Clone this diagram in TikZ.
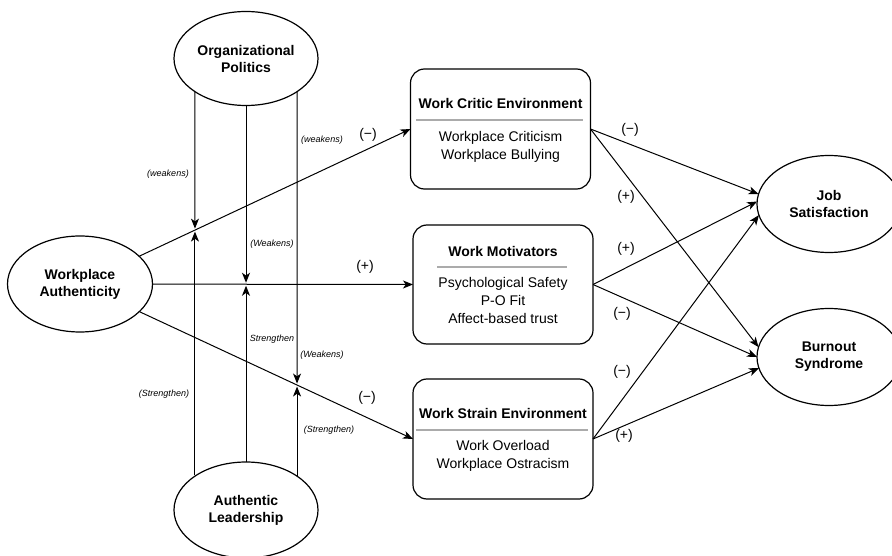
\documentclass[tikz,border=0pt]{standalone}
\usepackage{fontspec}
\setmainfont{Liberation Sans}
\usetikzlibrary{arrows.meta,shapes.geometric,calc}
\begin{document}
\begin{tikzpicture}[x=1pt,y=-1pt,
  every node/.style={inner sep=0pt,outer sep=0pt},
  oval/.style={draw,ellipse,line width=1.2pt,minimum width=144pt,minimum height=94pt,font=\fontsize{14}{17}\selectfont\bfseries,align=center},
  box/.style={draw,rounded corners=14pt,line width=1.2pt,minimum width=180pt,minimum height=120pt},
  boxtitle/.style={font=\fontsize{14}{17}\selectfont\bfseries},
  boxitems/.style={font=\fontsize{14}{18}\selectfont,align=center},
  sepline/.style={draw=black!33,line width=1.5pt},
  conn/.style={line width=1pt,-{Stealth[length=10pt,width=8pt,inset=2.8pt]}},
  sign/.style={font=\fontsize{14}{17}\selectfont},
  modlabel/.style={font=\fontsize{9}{11}\selectfont\itshape}]
\useasboundingbox (0,0) rectangle (892,556);

% ellipses
\node[oval] (op) at (246,58.5) {Organizational\\Politics};
\node[oval,minimum width=145pt,minimum height=96pt] (wa) at (80,284) {Workplace\\Authenticity};
\node[oval,minimum height=96pt] (al) at (246,510) {Authentic\\Leadership};
\node[oval,minimum height=97pt] (js) at (829,204) {Job\\Satisfaction};
\node[oval,minimum height=97pt] (bs) at (829,357) {Burnout\\Syndrome};

% boxes
\node[box] (wce) at (500.5,129) {};
\node[boxtitle] (wcet) at (500.5,103) {Work Critic Environment};
\draw[sepline] (416,120) -- (583,120);
\node[boxitems] (wcei) at (500.5,147) {Workplace Criticism\\Workplace Bullying};

\node[box,minimum height=119pt] (wm) at (503,284.5) {};
\node[boxtitle] (wmt) at (503,251) {Work Motivators};
\draw[sepline] (437,267) -- (567,267);
\node[boxitems] (wmi) at (503,300.5) {Psychological Safety\\P-O Fit\\Affect-based trust};

\node[box] (wse) at (503,439) {};
\node[boxtitle] (wset) at (503,413) {Work Strain Environment};
\draw[sepline] (416,430) -- (588,430);
\node[boxitems] (wsei) at (503,456) {Work Overload\\Workplace Ostracism};

% main paths from Workplace Authenticity
\draw[conn] (wa) -- (wce.west);
\draw[conn] (wa) -- (wm.west);
\draw[conn] (wa) -- (wse.west);

% moderation points
\coordinate (wac) at (wa.center);
\coordinate (wcew) at (wce.west);
\coordinate (wmw) at (wm.west);
\coordinate (wsew) at (wse.west);
\coordinate (v1a) at (op.213.8);
\coordinate (v1b) at ($(v1a)+(0,600)$);
\coordinate (v2a) at (op.south);
\coordinate (v2b) at ($(v2a)+(0,600)$);
\coordinate (v3a) at (op.327.3);
\coordinate (v3b) at ($(v3a)+(0,600)$);
\coordinate (m1) at (intersection of wac--wcew and v1a--v1b);
\coordinate (m2) at (intersection of wac--wmw and v2a--v2b);
\coordinate (m3) at (intersection of wac--wsew and v3a--v3b);

\draw[conn,shorten >=1.5pt] (v1a) -- (m1);
\draw[conn,shorten >=1.5pt] (al.145.4 -| m1) -- (m1);
\draw[conn,shorten >=1.5pt] (v2a) -- (m2);
\draw[conn,shorten >=1.5pt] (al.north -| m2) -- (m2);
\draw[conn,shorten >=1.5pt] (v3a) -- (m3);
\draw[conn,shorten >=1.5pt] (al.33.6 -| m3) -- (m3);

% outcome paths
\draw[conn] (wce.east) -- (js.172);
\draw[conn] (wce.east) -- (bs.172);
\draw[conn] (wm.east) -- (js.178);
\draw[conn] (wm.east) -- (bs.180);
\draw[conn] (wse.east) -- (js.189);
\draw[conn] (wse.east) -- (bs.189);

% sign labels
\node[sign] (s1) at (368,135) {(−)};
\node[sign] (s2) at (365,267) {(+)};
\node[sign] (s3) at (367,398) {(−)};
\node[sign] (s4) at (630,130) {(−)};
\node[sign] (s5) at (626,197) {(+)};
\node[sign] (s6) at (626,249) {(+)};
\node[sign] (s7) at (622,314) {(−)};
\node[sign] (s8) at (622,372) {(−)};
\node[sign] (s9) at (624,436) {(+)};

% moderation labels
\node[modlabel] (l1) at (168,174) {(weakens)};
\node[modlabel] (l2) at (322,140) {(weakens)};
\node[modlabel] (l3) at (272,244) {(Weakens)};
\node[modlabel] (l4) at (272,339) {Strengthen};
\node[modlabel] (l5) at (322,355) {(Weakens)};
\node[modlabel] (l6) at (164,394) {(Strengthen)};
\node[modlabel] (l7) at (329,430) {(Strengthen)};
\end{tikzpicture}
\end{document}
